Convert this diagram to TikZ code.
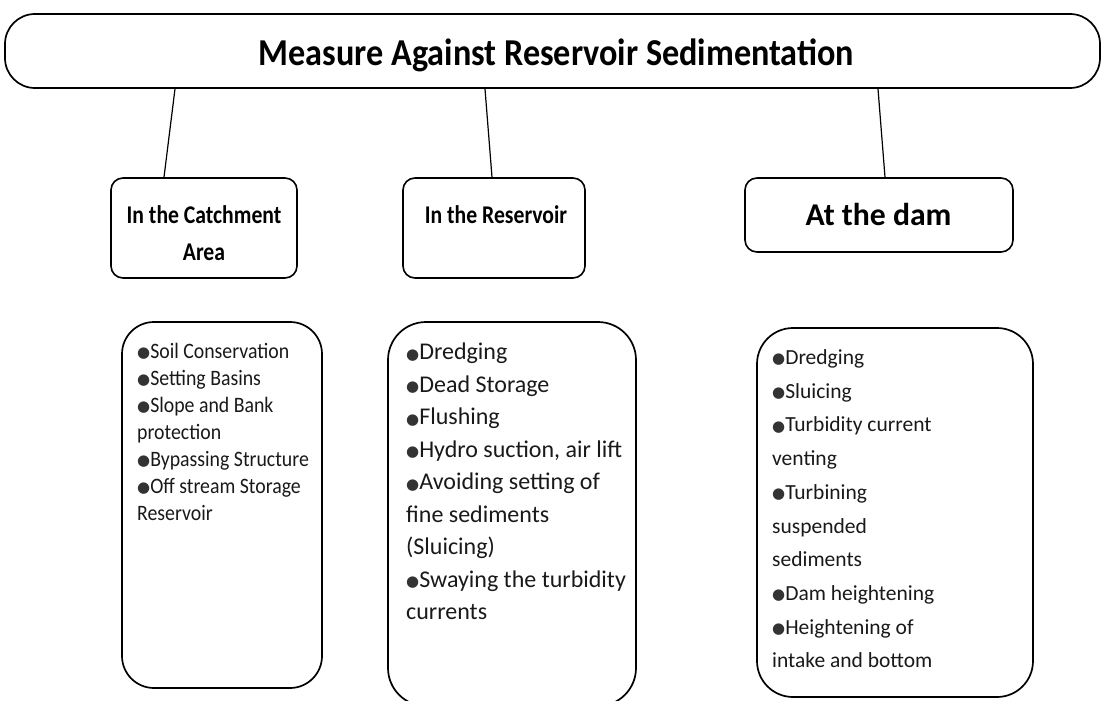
\documentclass[tikz,border=0pt]{standalone}
\usepackage{fontspec}
\setmainfont{Carlito}
\newfontfamily\symfont{DejaVu Sans}
\newfontfamily\condhead[FakeStretch=0.85]{Carlito}
\newfontfamily\condtitle[FakeStretch=0.9]{Carlito}
\newfontfamily\condlist[FakeStretch=0.9]{Carlito}
\newcommand{\bul}{\raisebox{0.8pt}{\textcolor{black!80}{\symfont\fontsize{15}{15}\selectfont ●}}}
\begin{document}
\begin{tikzpicture}[x=1pt,y=-1pt,line join=round]
\tikzset{
  titlebox/.style={draw,line width=1.7pt,rounded corners=30pt,inner sep=0pt,
    minimum width=1095pt,minimum height=74pt},
  headbox/.style={draw,line width=1.6pt,rounded corners=12pt,inner sep=0pt},
  headtext/.style={inner sep=0pt,align=center,font=\condhead\bfseries\fontsize{25.5}{37}\selectfont},
  listbox/.style={draw,line width=1.7pt,inner sep=0pt},
  listtext/.style={anchor=north west,inner sep=0pt,align=left,text=black!90},
  link/.style={line width=1.2pt}
}
\useasboundingbox (0,0) rectangle (1106,701);

% title
\node[titlebox] (title) at (552.5,51) {};
\node[inner sep=0pt,font=\condtitle\bfseries\fontsize{38}{44}\selectfont,anchor=base] (titletext) at (556.5,65.4) {Measure Against Reservoir Sedimentation};

% header boxes
\node[headbox,minimum width=186pt,minimum height=100pt] (h1) at (204,228) {};
\node[headtext,anchor=north] (h1t) at (204,205.2) {In the Catchment\\Area};
\node[headbox,minimum width=182pt,minimum height=100pt] (h2) at (494,228) {};
\node[headtext,anchor=base] (h2t) at (496,223.1) {In the Reservoir};
\node[headbox,minimum width=268pt,minimum height=74pt] (h3) at (879,215) {};
\node[headtext,anchor=base,font=\bfseries\fontsize{31.7}{40}\selectfont] (h3t) at (878.5,225) {At the dam};

% connectors
\draw[link] ([xshift=-377.5pt]title.south) -- ([xshift=-40pt]h1.north);
\draw[link] ([xshift=-67.5pt]title.south) -- ([xshift=-2pt]h2.north);
\draw[link] ([xshift=325.5pt]title.south) -- ([xshift=6pt]h3.north);

% list boxes
\node[listbox,rounded corners=32pt,minimum width=200pt,minimum height=366pt] (la) at (222,505) {};
\node[listtext,font=\condlist\fontsize{22}{27}\selectfont] (lat) at (137,343.1) {\bul Soil Conservation\\
\bul Setting Basins\\
\bul Slope and Bank\\
protection\\
\bul Bypassing Structure\\
\bul Off stream Storage\\
Reservoir};

\node[listbox,rounded corners=38pt,minimum width=248pt,minimum height=384pt] (lb) at (512,514) {};
\node[listtext,font=\fontsize{24}{32.5}\selectfont] (lbt) at (406,343.1) {\bul Dredging\\
\bul Dead Storage\\
\bul Flushing\\
\bul Hydro suction, air lift\\
\bul Avoiding setting of\\
fine sediments\\
(Sluicing)\\
\bul Swaying the turbidity\\
currents};

\node[listbox,rounded corners=36pt,minimum width=276pt,minimum height=369pt] (lc) at (895,512.5) {};
\begin{scope}
\clip (760,330) rectangle (1030,667);
\node[listtext,font=\fontsize{21.5}{33.7}\selectfont] (lct) at (772,349.4) {\bul Dredging\\
\bul Sluicing\\
\bul Turbidity current\\
venting\\
\bul Turbining\\
suspended\\
sediments\\
\bul Dam heightening\\
\bul Heightening of\\
intake and bottom};
\end{scope}
\end{tikzpicture}
\end{document}
